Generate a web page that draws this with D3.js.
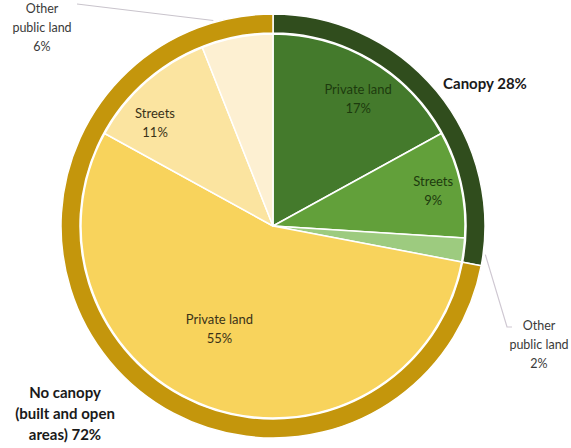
<!DOCTYPE html>
<html>
<head>
<meta charset="utf-8">
<script src="https://cdn.jsdelivr.net/npm/d3@7/dist/d3.min.js"></script>
<style>
  html, body { margin: 0; padding: 0; background: #ffffff; }
  svg { display: block; font-family: Lato, "Open Sans", sans-serif; }
</style>
</head>
<body>
<svg id="chart" width="571" height="448"></svg>
<script>
// Land-use breakdown, clockwise from 12 o'clock
const categories = ["Private land", "Streets", "Other public land", "Private land", "Streets", "Other public land"];
const groups = ["Canopy", "Canopy", "Canopy", "No canopy", "No canopy", "No canopy"];
const shares = [17, 9, 2, 55, 11, 6];
const sliceColors = ["#447a2c", "#62a03a", "#9dcb7f", "#f8d35c", "#fbe4a0", "#fdf0d2"];

const groupNames = ["Canopy", "No canopy"];
const groupShares = [28, 72];
const groupColors = ["#304d1d", "#c4960c"];

const svg = d3.select("#chart");
const cx = 273, cy = 226;
const rPie = 192, rRingIn = 193, rRingOut = 212;

const g = svg.append("g").attr("transform", `translate(${cx},${cy})`);

const pie = d3.pie().sort(null).value(d => d.v);

// Outer ring: canopy vs no canopy
const ringData = pie(groupNames.map((n, i) => ({ n, v: groupShares[i], c: groupColors[i] })));
const ringArc = d3.arc().innerRadius(rRingIn).outerRadius(rRingOut);
g.selectAll("path.ring").data(ringData).enter().append("path")
  .attr("class", "ring")
  .attr("d", ringArc)
  .attr("fill", d => d.data.c)
  .attr("stroke", "#ffffff")
  .attr("stroke-width", 1.5);

// Inner pie: land type within each group
const sliceData = pie(categories.map((n, i) => ({ n, g: groups[i], v: shares[i], c: sliceColors[i] })));
const sliceArc = d3.arc().innerRadius(0).outerRadius(rPie);
g.selectAll("path.slice").data(sliceData).enter().append("path")
  .attr("class", "slice")
  .attr("d", sliceArc)
  .attr("fill", d => d.data.c)
  .attr("stroke", "#ffffff")
  .attr("stroke-width", 1.5)
  .attr("stroke-linejoin", "round");

// In-slice labels: f = position along the slice's sweep, r = fraction of radius
const inside = [
  { i: 0, f: 0.55, r: 0.80, color: "#1d3a0e" },
  { i: 1, f: 0.50, r: 0.855, color: "#1d3a0e" },
  { i: 3, f: 0.54, r: 0.60, color: "#3a3218" },
  { i: 4, f: 0.32, r: 0.82, color: "#3a3218" }
];
inside.forEach(o => {
  const d = sliceData[o.i];
  const a = d.startAngle + (d.endAngle - d.startAngle) * o.f;
  const x = Math.sin(a) * rPie * o.r;
  const y = -Math.cos(a) * rPie * o.r;
  const t = g.append("text")
    .attr("text-anchor", "middle")
    .attr("font-size", 13)
    .attr("fill", o.color);
  t.append("tspan").attr("x", x).attr("y", y - 4).text(d.data.n);
  t.append("tspan").attr("x", x).attr("y", y + 15).text(d.data.v + "%");
});

function outsideText(d, x, y) {
  const t = g.append("text").attr("text-anchor", "middle").attr("font-size", 12.5).attr("fill", "#3a3a3a");
  ["Other", "public land", d.data.v + "%"].forEach((s, k) => {
    t.append("tspan").attr("x", x).attr("y", y + k * 19).text(s);
  });
}

// 2% slice: leader from ring edge down to the right
{
  const d = sliceData[2];
  const a = (d.startAngle + d.endAngle) / 2;
  const p0 = [Math.sin(a) * rRingOut + 2, -Math.cos(a) * rRingOut + 2];
  g.append("polyline")
    .attr("points", [p0, [234, 101], [239, 101]].map(p => p.join(",")).join(" "))
    .attr("fill", "none").attr("stroke", "#cfc8d2").attr("stroke-width", 1.2);
  outsideText(d, 266, 104);
}
// 6% slice: leader from top of ring to the upper-left label
{
  const d = sliceData[5];
  const a = d.startAngle + (d.endAngle - d.startAngle) * 0.25;
  const p0 = [Math.sin(a) * (rRingOut + 2), -Math.cos(a) * (rRingOut + 2)];
  g.append("polyline")
    .attr("points", [p0, [-196, -222]].map(p => p.join(",")).join(" "))
    .attr("fill", "none").attr("stroke", "#c9c4cc").attr("stroke-width", 1.2);
  outsideText(d, -231, -213);
}

// Group labels for the outer ring
g.append("text")
  .attr("x", 212).attr("y", -137)
  .attr("text-anchor", "middle")
  .attr("font-size", 15).attr("font-weight", "bold").attr("fill", "#1a1a1a")
  .text(groupNames[0] + " " + groupShares[0] + "%");

const nc = g.append("text")
  .attr("text-anchor", "middle")
  .attr("font-size", 15).attr("font-weight", "bold").attr("fill", "#1a1a1a");
["No canopy", "(built and open", "areas) " + groupShares[1] + "%"].forEach((s, k) => {
  nc.append("tspan").attr("x", -208).attr("y", 172 + k * 21).text(s);
});
</script>
</body>
</html>
